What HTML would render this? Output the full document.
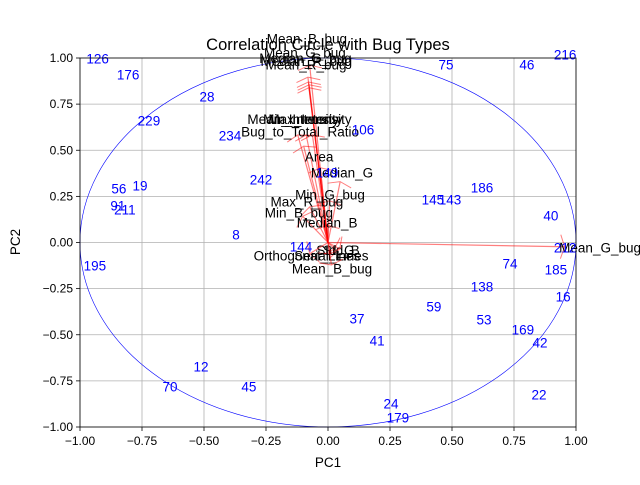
<!DOCTYPE html>
<html><head><meta charset="utf-8"><style>
body{margin:0;background:#fff}
svg{font-family:"Liberation Sans","DejaVu Sans",sans-serif}
</style></head><body>
<svg id="chart" width="640" height="480"></svg>
<script>
const obsLabels=["126","216","176","75","46","28","229","234","106","242","149","186","145","143","56","19","91","211","40","8","144","212","195","74","185","138","16","59","37","53","169","41","42","12","70","45","22","24","179"];
const obsPC1=[-0.929,0.956,-0.806,0.476,0.802,-0.488,-0.722,-0.395,0.141,-0.270,-0.004,0.621,0.423,0.492,-0.843,-0.758,-0.847,-0.819,0.899,-0.371,-0.109,0.956,-0.940,0.734,0.919,0.621,0.948,0.427,0.117,0.629,0.786,0.198,0.855,-0.512,-0.637,-0.319,0.851,0.254,0.282];
const obsPC2=[0.997,1.019,0.910,0.964,0.964,0.791,0.661,0.580,0.612,0.341,0.379,0.298,0.233,0.233,0.293,0.309,0.201,0.179,0.146,0.043,-0.022,-0.027,-0.125,-0.114,-0.146,-0.238,-0.293,-0.347,-0.412,-0.417,-0.472,-0.531,-0.542,-0.672,-0.780,-0.780,-0.824,-0.873,-0.949];
const varLabels=["Mean_B_bug","Mean_G_bug","Median_G_bug","Median_R_bug","Mean_R_bug","Mean_Intensity","Min_Intensity","Max_Intensity","Bug_to_Total_Ratio","Area","Median_G","Min_G_bug","Max_R_bug","Min_B_bug","Median_B","Std_B","Std_G","Orthogonal_Lines","Serial_Lines","Mean_B_bug","Mean_G_bug"];
const varPC1=[-0.074,-0.081,-0.079,-0.076,-0.077,-0.122,-0.088,-0.063,-0.098,-0.031,0.049,0.007,-0.074,-0.102,-0.003,0.047,0.026,-0.074,0.012,0.014,0.954];
const varPC2=[0.961,0.896,0.870,0.855,0.839,0.583,0.583,0.583,0.522,0.405,0.330,0.226,0.193,0.142,0.094,-0.035,-0.035,-0.061,-0.061,-0.122,-0.023];
const xTicks=[-1,-0.75,-0.5,-0.25,0,0.25,0.5,0.75,1];
const yTicks=[-1,-0.75,-0.5,-0.25,0,0.25,0.5,0.75,1];
const xTickLabels=["−1.00","−0.75","−0.50","−0.25","0.00","0.25","0.50","0.75","1.00"];
const yTickLabels=["−1.00","−0.75","−0.50","−0.25","0.00","0.25","0.50","0.75","1.00"];

const L=80,R=576,T=58,B=427;
const sx=v=>L+(v+1)/2*(R-L);
const sy=v=>T+(1-v)/2*(B-T);
const svg=document.getElementById('chart');
const NS='http://www.w3.org/2000/svg';
function mk(tag,a,p){const e=document.createElementNS(NS,tag);for(const k in a)e.setAttribute(k,a[k]);(p||svg).appendChild(e);return e;}

xTicks.forEach((t,i)=>{
  const g=mk('line',{x1:sx(t),x2:sx(t),y1:T,y2:B,stroke:'#b0b0b0','stroke-width':0.8});
  
  
  mk('line',{x1:sx(t),x2:sx(t),y1:B,y2:B+4,stroke:'#000','stroke-width':0.8});
  const tl=mk('text',{x:sx(t),y:B+18,'font-size':12,'text-anchor':'middle'});
  tl.textContent=xTickLabels[i];
  
  
});
yTicks.forEach((t,i)=>{
  const g=mk('line',{x1:L,x2:R,y1:sy(t),y2:sy(t),stroke:'#b0b0b0','stroke-width':0.8});
  
  
  mk('line',{x1:L-4,x2:L,y1:sy(t),y2:sy(t),stroke:'#000','stroke-width':0.8});
  const tl=mk('text',{x:L-7,y:sy(t)+4,'font-size':12,'text-anchor':'end'});
  tl.textContent=yTickLabels[i];
  
  
});

const c=mk('ellipse',{cx:sx(0),cy:sy(0),rx:(R-L)/2,ry:(B-T)/2,fill:'none',stroke:'blue','stroke-width':0.6});



const ox=sx(0),oy=sy(0);
varLabels.forEach((n,i)=>{
  const ex=sx(varPC1[i]),ey=sy(varPC2[i]);
  const dx=ex-ox,dy=ey-oy,len=Math.hypot(dx,dy),ux=dx/len,uy=dy/len;
  const hl=4,hw=12;
  const bx=ex-ux*hl,by=ey-uy*hl;
  const px=-uy,py=ux;
  const g=mk('g',{opacity:0.5});
  
  
  mk('line',{x1:ox,y1:oy,x2:ex,y2:ey,stroke:'red','stroke-width':1.2},g);
  mk('polyline',{points:`${bx+px*hw},${by+py*hw} ${ex},${ey} ${bx-px*hw},${by-py*hw}`,fill:'none',stroke:'red','stroke-width':1},g);
  const t=mk('text',{x:sx(varPC1[i]*1.15),y:sy(varPC2[i]*1.15)+5,'font-size':13.5,'text-anchor':'middle',fill:'#000'});
  t.textContent=n;
  
  
});

obsLabels.forEach((n,i)=>{
  const t=mk('text',{x:sx(obsPC1[i]),y:sy(obsPC2[i])+5,'font-size':13.5,'text-anchor':'middle',fill:'blue'});
  t.textContent=n;
  
  
});

const f=mk('rect',{x:L,y:T,width:R-L,height:B-T,fill:'none',stroke:'#000','stroke-width':0.8});



const title=mk('text',{x:328,y:50,'font-size':16.5,'text-anchor':'middle'});
title.textContent='Correlation Circle with Bug Types';


const xl=mk('text',{x:328,y:467,'font-size':13.5,'text-anchor':'middle'});
xl.textContent='PC1';


const yl=mk('text',{x:20,y:242,'font-size':13.5,'text-anchor':'middle',transform:'rotate(-90 20 242)'});
yl.textContent='PC2';


</script>
</body></html>
